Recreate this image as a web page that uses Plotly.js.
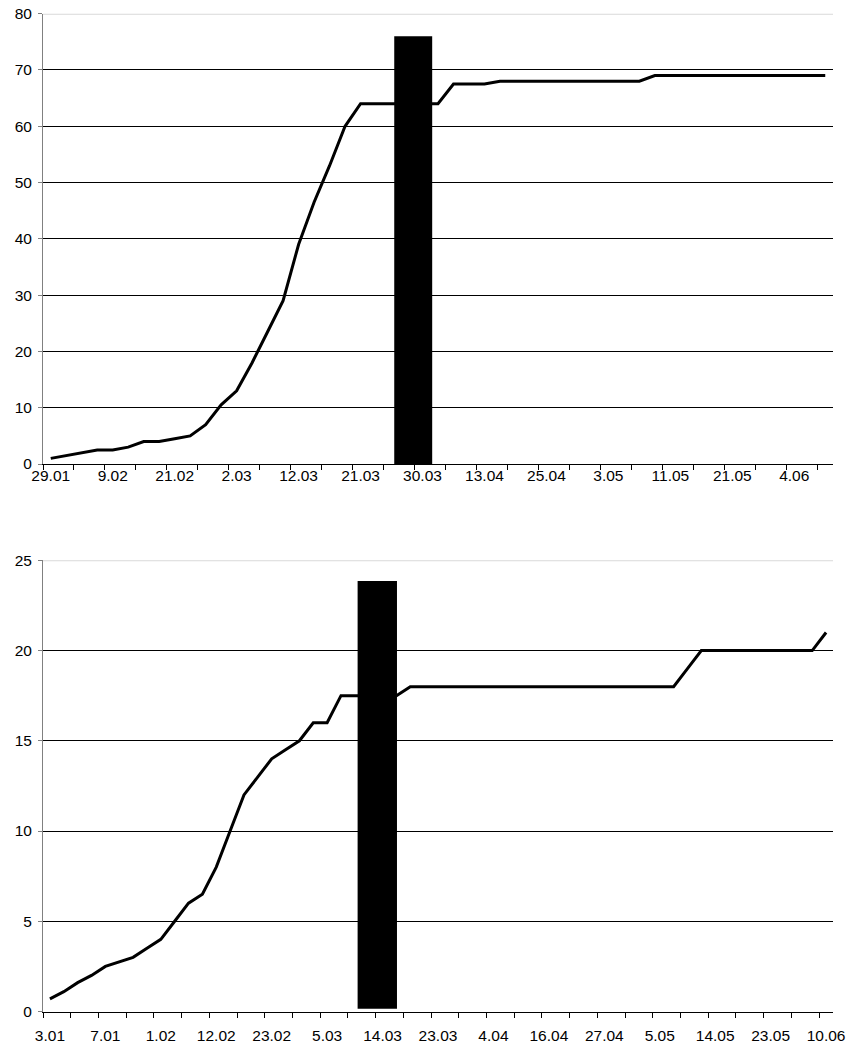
<!DOCTYPE html>
<html>
<head>
<meta charset="utf-8">
<script src="https://cdn.plot.ly/plotly-3.0.1.min.js"></script>
<style>
  html, body { margin: 0; padding: 0; background: #fff; }
  #chart { width: 849px; height: 1046px; }
</style>
</head>
<body>
<div id="chart"></div>
<script>
// ---- Top chart data ----
const topLabels = ['29.01', '9.02', '21.02', '2.03', '12.03', '21.03', '30.03', '13.04', '25.04', '3.05', '11.05', '21.05', '4.06'];
const topValues = [
  1, 1.5, 2, 2.5, 2.5, 3, 4, 4, 4.5, 5,
  7, 10.5, 13, 18, 23.5, 29, 39, 46.5, 53, 60,
  64, 64, 64, 64, 64, 64, 67.5, 67.5, 67.5, 68,
  68, 68, 68, 68, 68, 68, 68, 68, 68,
  69, 69, 69, 69, 69, 69, 69, 69, 69, 69, 69, 69
];
const topBarX = [23.4];
const topBarValue = [76];
const topMax = 80;

// ---- Bottom chart data ----
const bottomLabels = ['3.01', '7.01', '1.02', '12.02', '23.02', '5.03', '14.03', '23.03', '4.04', '16.04', '27.04', '5.05', '14.05', '23.05', '10.06'];
const bottomValues = [
  0.7, 1.1, 1.6, 2, 2.5, 2.75, 3, 3.5, 4, 5,
  6, 6.5, 8, 10, 12, 13, 14, 14.5, 15, 16,
  16, 17.5, 17.5, 17.5, 17.5, 17.5,
  18, 18, 18, 18, 18, 18, 18, 18, 18, 18,
  18, 18, 18, 18, 18, 18, 18, 18, 18, 18,
  19,
  20, 20, 20, 20, 20, 20, 20, 20, 20,
  21
];
const bottomBarX = [23.62];
const bottomBarValue = [23.85];
const bottomBarBase = [0.15];
const bottomMax = 25;

// ---- helpers (layout only) ----
const LABEL_EVERY = 4;
const TICK_EVERY = 2;
const W = 849, H = 1046;
const FONT = { family: 'Liberation Sans, Arial, sans-serif', size: 15.5, color: '#000' };

function idx(arr) { return arr.map((_, i) => i); }
function boundaries(n) {
  const b = [];
  for (let k = -0.5; k < n - 0.5; k += TICK_EVERY) b.push(k);
  return b;
}

const xDomain = [43 / W, 833 / W];
const topDomain = [1 - 464 / H, 1 - 13.7 / H];
const botDomain = [1 - 1011.5 / H, 1 - 560.3 / H];

function xAxis(n, labels, domain, anchor, standoff) {
  return {
    domain: domain, anchor: anchor,
    range: [-0.5, n - 0.5],
    tickmode: 'array',
    tickvals: labels.map((_, k) => k * LABEL_EVERY),
    ticktext: labels,
    ticks: '',
    ticklabelstandoff: standoff,
    tickfont: FONT,
    showline: true, linecolor: '#000', linewidth: 1,
    showgrid: false, zeroline: false,
    minor: {
      tickmode: 'array', tickvals: boundaries(n),
      ticks: 'outside', ticklen: 5, tickwidth: 1, tickcolor: '#000', showgrid: false
    },
    fixedrange: true
  };
}
function yAxis(max, dtick, domain, anchor) {
  return {
    domain: domain, anchor: anchor,
    range: [0, max], tickmode: 'linear', tick0: 0, dtick: dtick,
    ticks: 'outside', ticklen: 4, tickwidth: 1, tickcolor: '#808080',
    ticklabelstandoff: 3,
    tickfont: FONT,
    showline: true, linecolor: '#808080', linewidth: 1,
    showgrid: true, gridcolor: '#000', gridwidth: 1,
    zeroline: false, fixedrange: true
  };
}
function overlayX(base, n) {
  return { overlaying: base, range: [-0.5, n - 0.5], visible: false, showgrid: false, zeroline: false, fixedrange: true };
}
function overlayY(base, max) {
  return { overlaying: base, range: [0, max], visible: false, showgrid: false, zeroline: false, fixedrange: true };
}

const lineStyle = { color: '#000', width: 3 };

const traces = [
  { type: 'scatter', mode: 'lines', x: idx(topValues), y: topValues, xaxis: 'x', yaxis: 'y', line: lineStyle, hoverinfo: 'skip' },
  { type: 'bar', x: topBarX, y: topBarValue, base: [0], width: [2.45], xaxis: 'x3', yaxis: 'y3', marker: { color: '#000', line: { width: 0 } }, hoverinfo: 'skip' },
  { type: 'scatter', mode: 'lines', x: idx(bottomValues), y: bottomValues, xaxis: 'x2', yaxis: 'y2', line: lineStyle, hoverinfo: 'skip' },
  { type: 'bar', x: bottomBarX, y: bottomBarValue.map((v, i) => v - bottomBarBase[i]), base: bottomBarBase, width: [2.84], xaxis: 'x4', yaxis: 'y4', marker: { color: '#000', line: { width: 0 } }, hoverinfo: 'skip' }
];

const layout = {
  width: W, height: H,
  margin: { l: 0, r: 0, t: 0, b: 0 },
  paper_bgcolor: '#fff', plot_bgcolor: '#fff',
  showlegend: false,
  font: FONT,
  xaxis: xAxis(topValues.length, topLabels, xDomain, 'y', -3),
  yaxis: yAxis(topMax, 10, topDomain, 'x'),
  xaxis2: xAxis(bottomValues.length, bottomLabels, xDomain, 'y2', 10),
  yaxis2: yAxis(bottomMax, 5, botDomain, 'x2'),
  xaxis3: Object.assign(overlayX('x', topValues.length), { anchor: 'y3' }),
  yaxis3: Object.assign(overlayY('y', topMax), { anchor: 'x3' }),
  xaxis4: Object.assign(overlayX('x2', bottomValues.length), { anchor: 'y4' }),
  yaxis4: Object.assign(overlayY('y2', bottomMax), { anchor: 'x4' }),
  shapes: [
    { type: 'line', xref: 'x domain', yref: 'y', x0: 0, x1: 1, y0: topMax, y1: topMax, line: { color: '#d9d9d9', width: 2 }, layer: 'above' },
    { type: 'line', xref: 'x2 domain', yref: 'y2', x0: 0, x1: 1, y0: bottomMax, y1: bottomMax, line: { color: '#d9d9d9', width: 2 }, layer: 'above' }
  ]
};

Plotly.newPlot('chart', traces, layout, { displayModeBar: false, staticPlot: true });
</script>
</body>
</html>
